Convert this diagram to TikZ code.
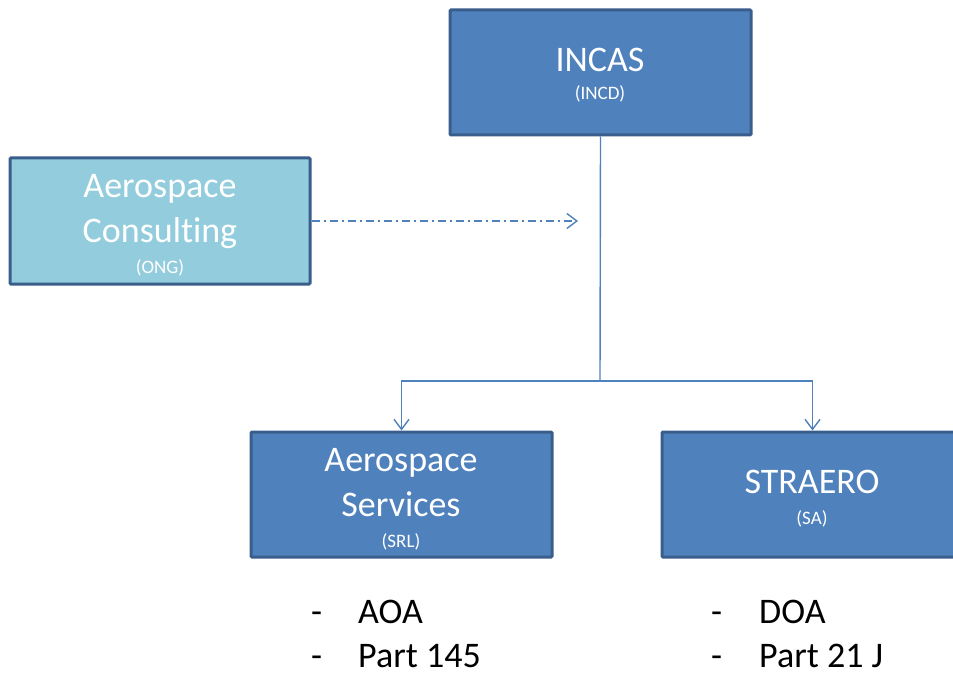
\documentclass[tikz,border=0pt]{standalone}
\usepackage{fontspec}
\setmainfont[Ligatures={NoCommon,NoRare,NoDiscretionary}]{Carlito}
\usetikzlibrary{arrows.meta}
\definecolor{boxfill}{HTML}{4F81BD}
\definecolor{boxedge}{HTML}{3A5E8C}
\definecolor{lightfill}{HTML}{93CDDD}
\definecolor{linkcol}{HTML}{4F81BD}
\tikzset{
  orgbox/.style={draw=boxedge, line width=3pt, fill=boxfill, rounded corners=1pt, inner sep=0pt},
  lightbox/.style={orgbox, fill=lightfill},
  bigtxt/.style={text=white, font=\fontsize{36}{43}\selectfont, anchor=base, inner sep=0pt},
  smalltxt/.style={text=white, font=\fontsize{19}{23}\selectfont, anchor=base, inner sep=0pt},
  listtxt/.style={text=black, font=\fontsize{36}{43}\selectfont, anchor=base west, inner sep=0pt, text depth=0pt},
  link/.style={draw=linkcol, line width=1.4pt, -{Straight Barb[length=10pt,width=15pt,line width=1.4pt]}},
  dashlink/.style={link, dash pattern=on 8pt off 4pt on 2pt off 4pt}
}
\begin{document}
\begin{tikzpicture}[x=1pt,y=-1pt]
\clip (0,0) rectangle (953,674);
\fill[white] (0,0) rectangle (953,674);
% boxes
\node[orgbox, minimum width=301pt, minimum height=125pt] (incas) at (600.5,72.5) {};
\node[lightbox, minimum width=300pt, minimum height=126pt] (cons) at (160,221) {};
\node[orgbox, minimum width=301pt, minimum height=125pt] (serv) at (401.5,494.5) {};
\node[orgbox, minimum width=301pt, minimum height=125pt] (stra) at (812.5,494.5) {};
% texts
\node[bigtxt] (t1) at (600,72) {INCAS};
\node[smalltxt] (t1s) at (600,100) {(INCD)};
\node[bigtxt] (t2a) at (160,197) {Aerospace};
\node[bigtxt] (t2b) at (160,242) {Consulting};
\node[smalltxt] (t2s) at (160,273) {(ONG)};
\node[bigtxt] (t3a) at (401,471) {Aerospace};
\node[bigtxt] (t3b) at (401,516) {Services};
\node[smalltxt] (t3s) at (401,547) {(SRL)};
\node[bigtxt] (t4) at (812,493) {STRAERO};
\node[smalltxt] (t4s) at (812,524) {(SA)};
% lists
\node[listtxt] (d1) at (311,623) {-};
\node[listtxt] (l1) at (358,623) {AOA};
\node[listtxt] (d2) at (311,667) {-};
\node[listtxt] (l2) at (358,667) {Part 145};
\node[listtxt] (d3) at (711,623) {-};
\node[listtxt] (l3) at (759,623) {DOA};
\node[listtxt] (d4) at (711,667) {-};
\node[listtxt] (l4) at (759,667) {Part 21 J};
% connectors
\coordinate (junc) at (600,381);
\coordinate (dashend) at (578,221);
\draw[draw=linkcol, line width=1.4pt] (incas.south) -- (junc);
\draw[link] (junc) -| (serv.north);
\draw[link] (junc) -| (stra.north);
\draw[dashlink] (cons.east) -- (dashend);
\end{tikzpicture}
\end{document}
